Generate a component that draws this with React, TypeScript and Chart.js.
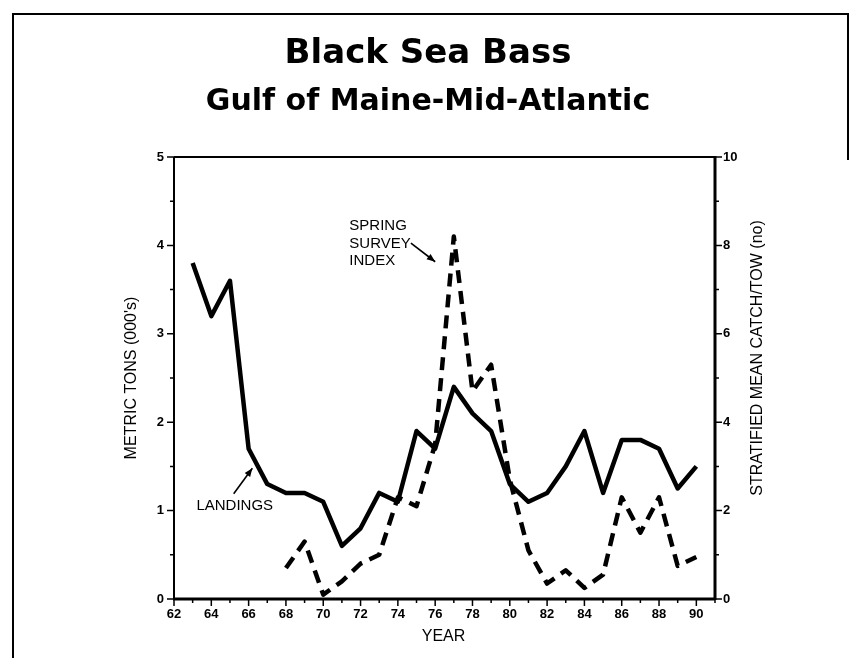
import React, { useEffect, useRef } from "react";
import { Chart, registerables } from "chart.js";

Chart.register(...registerables);

// ---- data ----
const landingYears = [63, 64, 65, 66, 67, 68, 69, 70, 71, 72, 73, 74, 75, 76, 77, 78, 79, 80, 81, 82, 83, 84, 85, 86, 87, 88, 89, 90];
const landingTons = [3.8, 3.2, 3.6, 1.7, 1.3, 1.2, 1.2, 1.1, 0.6, 0.8, 1.2, 1.1, 1.9, 1.7, 2.4, 2.1, 1.9, 1.3, 1.1, 1.2, 1.5, 1.9, 1.2, 1.8, 1.8, 1.7, 1.25, 1.5];
const surveyYears = [68, 69, 70, 71, 72, 73, 74, 75, 76, 77, 78, 79, 80, 81, 82, 83, 84, 85, 86, 87, 88, 89, 90];
const surveyIndex = [0.7, 1.3, 0.1, 0.4, 0.8, 1.0, 2.3, 2.1, 3.5, 8.2, 4.7, 5.3, 2.7, 1.1, 0.35, 0.65, 0.25, 0.55, 2.3, 1.5, 2.3, 0.75, 0.95];

const xMajorTicks = [62, 64, 66, 68, 70, 72, 74, 76, 78, 80, 82, 84, 86, 88, 90];
const xMinorTicks = [63, 65, 67, 69, 71, 73, 75, 77, 79, 81, 83, 85, 87, 89, 91];
const leftMajorTicks = [0, 1, 2, 3, 4, 5];
const leftMinorTicks = [0.5, 1.5, 2.5, 3.5, 4.5];
const rightMajorTicks = [0, 2, 4, 6, 8, 10];
const rightMinorTicks = [1, 3, 5, 7, 9];

const titleText = "Black Sea Bass";
const subtitleText = "Gulf of Maine-Mid-Atlantic";
const leftAxisTitle = "METRIC TONS (000's)";
const rightAxisTitle = "STRATIFIED MEAN CATCH/TOW (no)";
const xAxisTitle = "YEAR";
const surveyLabel = ["SPRING", "SURVEY", "INDEX"];
const landingsLabel = "LANDINGS";

const W = 852;
const H = 658;

function arrow(ctx: CanvasRenderingContext2D, x0: number, y0: number, x1: number, y1: number) {
  ctx.beginPath();
  ctx.moveTo(x0, y0);
  ctx.lineTo(x1, y1);
  ctx.stroke();
  const a = Math.atan2(y1 - y0, x1 - x0);
  const L = 9, w = 0.38;
  ctx.beginPath();
  ctx.moveTo(x1, y1);
  ctx.lineTo(x1 - L * Math.cos(a - w), y1 - L * Math.sin(a - w));
  ctx.lineTo(x1 - L * Math.cos(a + w), y1 - L * Math.sin(a + w));
  ctx.closePath();
  ctx.fill();
}

const decor = {
  id: "decor",
  afterDraw(chart: any) {
    const { ctx, chartArea: ca, scales } = chart;
    const sx = scales.x, sy = scales.y, sy2 = scales.y2;
    ctx.save();
    ctx.strokeStyle = "#000";
    ctx.fillStyle = "#000";
    ctx.lineCap = "butt";

    // page border
    ctx.lineWidth = 2;
    ctx.beginPath();
    ctx.moveTo(13, H);
    ctx.lineTo(13, 14);
    ctx.lineTo(848, 14);
    ctx.lineTo(848, 160);
    ctx.stroke();

    // plot frame
    ctx.lineWidth = 2;
    ctx.beginPath();
    ctx.moveTo(ca.left, ca.top);
    ctx.lineTo(ca.right, ca.top);
    ctx.moveTo(ca.left, ca.top);
    ctx.lineTo(ca.left, ca.bottom);
    ctx.stroke();
    ctx.lineWidth = 3;
    ctx.beginPath();
    ctx.moveTo(ca.left - 1, ca.bottom);
    ctx.lineTo(ca.right, ca.bottom);
    ctx.moveTo(ca.right, ca.top - 1);
    ctx.lineTo(ca.right, ca.bottom + 1);
    ctx.stroke();

    // ticks
    ctx.lineWidth = 1.5;
    ctx.beginPath();
    leftMajorTicks.forEach((v) => { const p = sy.getPixelForValue(v); ctx.moveTo(ca.left - 7, p); ctx.lineTo(ca.left, p); });
    leftMinorTicks.forEach((v) => { const p = sy.getPixelForValue(v); ctx.moveTo(ca.left - 4, p); ctx.lineTo(ca.left, p); });
    rightMajorTicks.forEach((v) => { const p = sy2.getPixelForValue(v); ctx.moveTo(ca.right, p); ctx.lineTo(ca.right + 7, p); });
    rightMinorTicks.forEach((v) => { const p = sy2.getPixelForValue(v); ctx.moveTo(ca.right, p); ctx.lineTo(ca.right + 4, p); });
    xMajorTicks.forEach((v) => { const p = sx.getPixelForValue(v); ctx.moveTo(p, ca.bottom); ctx.lineTo(p, ca.bottom + 7); });
    xMinorTicks.forEach((v) => { const p = sx.getPixelForValue(v); ctx.moveTo(p, ca.bottom); ctx.lineTo(p, ca.bottom + 4); });
    ctx.stroke();

    // titles
    ctx.textAlign = "center";
    ctx.textBaseline = "alphabetic";
    ctx.font = "bold 34px 'DejaVu Sans'";
    ctx.fillText(titleText, 428, 63);
    ctx.font = "bold 30px 'DejaVu Sans'";
    ctx.fillText(subtitleText, 428, 110);

    // axis titles
    ctx.font = "16px 'Liberation Sans'";
    ctx.textBaseline = "middle";
    ctx.fillText(xAxisTitle, (ca.left + ca.right) / 2 - 1, 637);
    ctx.save();
    ctx.translate(132, (ca.top + ca.bottom) / 2);
    ctx.rotate(-Math.PI / 2);
    ctx.fillText(leftAxisTitle, 0, 0);
    ctx.restore();
    ctx.save();
    ctx.translate(758, (ca.top + ca.bottom) / 2 - 20);
    ctx.rotate(-Math.PI / 2);
    ctx.fillText(rightAxisTitle, 0, 0);
    ctx.restore();

    // annotations
    ctx.font = "15px 'Liberation Sans'";
    ctx.textAlign = "left";
    const ax = sx.getPixelForValue(71.4);
    surveyLabel.forEach((t, i) => {
      ctx.fillText(t, ax, sy2.getPixelForValue(8.44 - i * 0.4));
    });
    ctx.lineWidth = 1.6;
    arrow(ctx, sx.getPixelForValue(74.7), sy2.getPixelForValue(8.05), sx.getPixelForValue(76.0), sy2.getPixelForValue(7.63));

    ctx.fillText(landingsLabel, sx.getPixelForValue(63.2), sy.getPixelForValue(1.05));
    arrow(ctx, sx.getPixelForValue(65.2), sy.getPixelForValue(1.19), sx.getPixelForValue(66.2), sy.getPixelForValue(1.48));

    ctx.restore();
  },
};

export default function App() {
  const ref = useRef<HTMLCanvasElement | null>(null);
  useEffect(() => {
    if (!ref.current) return;
    const chart = new Chart(ref.current, {
      type: "line",
      data: {
        datasets: [
          {
            label: "Landings",
            data: landingYears.map((x, i) => ({ x, y: landingTons[i] })),
            borderColor: "#000",
            borderWidth: 4.5,
            borderJoinStyle: "round",
            pointRadius: 0,
            tension: 0,
            yAxisID: "y",
          },
          {
            label: "Spring Survey Index",
            data: surveyYears.map((x, i) => ({ x, y: surveyIndex[i] })),
            borderColor: "#000",
            borderWidth: 4.5,
            borderDash: [13, 8],
            borderJoinStyle: "round",
            borderCapStyle: "butt",
            pointRadius: 0,
            tension: 0,
            yAxisID: "y2",
          },
        ],
      },
      options: {
        responsive: false,
        animation: false,
        devicePixelRatio: 1,
        layout: { padding: { top: 157, left: 0, right: 0, bottom: 0 } },
        plugins: { legend: { display: false }, title: { display: false }, tooltip: { enabled: false } },
        scales: {
          x: {
            type: "linear",
            min: 62,
            max: 91,
            grid: { display: false, drawTicks: false },
            border: { display: false },
            afterFit: (s: any) => { s.height = H - 599; },
            ticks: {
              stepSize: 2,
              includeBounds: false,
              autoSkip: false,
              maxRotation: 0,
              padding: 8,
              color: "#000",
              font: { family: "'Liberation Sans'", size: 13, weight: "bold" },
              callback: (v: any) => (xMajorTicks.includes(Number(v)) ? String(v) : ""),
            },
          },
          y: {
            type: "linear",
            position: "left",
            min: 0,
            max: 5,
            grid: { display: false, drawTicks: false },
            border: { display: false },
            afterFit: (s: any) => { s.width = 174; },
            ticks: {
              stepSize: 1,
              padding: 10,
              color: "#000",
              font: { family: "'Liberation Sans'", size: 13, weight: "bold" },
              callback: (v: any) => (leftMajorTicks.includes(Number(v)) ? String(v) : ""),
            },
          },
          y2: {
            type: "linear",
            position: "right",
            min: 0,
            max: 10,
            grid: { display: false, drawTicks: false },
            border: { display: false },
            afterFit: (s: any) => { s.width = W - 715; },
            ticks: {
              stepSize: 2,
              padding: 8,
              color: "#000",
              font: { family: "'Liberation Sans'", size: 13, weight: "bold" },
              callback: (v: any) => (rightMajorTicks.includes(Number(v)) ? String(v) : ""),
            },
          },
        },
      },
      plugins: [decor],
    });
    return () => chart.destroy();
  }, []);
  return (
    <div style={{ position: "absolute", left: 0, top: 0, width: W, height: H, background: "#fff" }}>
      <canvas ref={ref} width={W} height={H} style={{ display: "block" }} />
    </div>
  );
}
